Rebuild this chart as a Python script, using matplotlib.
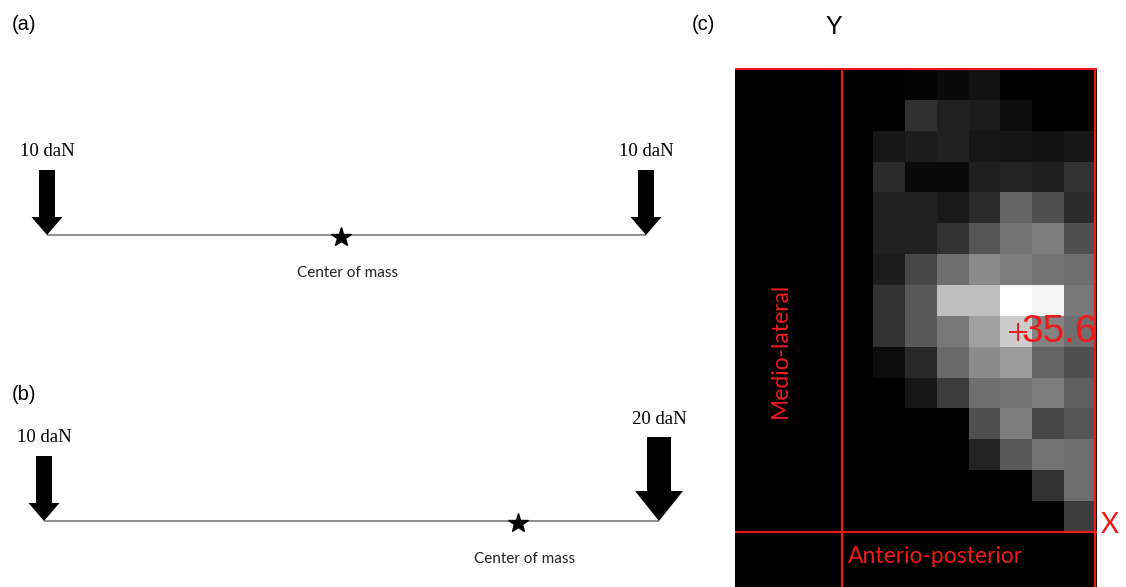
import matplotlib.pyplot as plt
import numpy as np
from matplotlib.patches import FancyArrow

# beam diagrams (a) and (b)
force_pos = [0.0, 1.0]            # where the loads act, as fraction of beam length
forces_a = [10, 10]               # daN
forces_b = [10, 20]               # daN
com_a = 0.49                      # center of mass
com_b = 0.77
force_labels_a = ['10 daN', '10 daN']
force_labels_b = ['10 daN', '20 daN']

# pressure map (c), grey level per cell, 15 rows x 7 columns
pressure = [
    [0, 3, 10, 18, 2, 0, 0],
    [0, 48, 32, 28, 12, 0, 0],
    [22, 28, 32, 22, 20, 18, 22],
    [42, 10, 10, 30, 35, 30, 50],
    [32, 32, 25, 42, 100, 80, 45],
    [32, 32, 50, 85, 115, 125, 80],
    [28, 70, 110, 140, 125, 115, 110],
    [50, 90, 190, 190, 255, 245, 120],
    [50, 90, 120, 160, 205, 130, 110],
    [12, 40, 105, 140, 155, 100, 80],
    [0, 22, 60, 110, 115, 125, 95],
    [0, 0, 0, 80, 125, 70, 85],
    [0, 0, 0, 35, 90, 115, 110],
    [0, 0, 0, 0, 0, 50, 110],
    [0, 0, 0, 0, 0, 0, 60],
]
cop = (4.55, 8.5)                 # centre of pressure, in cells
peak_value = '35.6'

W, H = 1126, 587
RED = '#ee1a1a'
SANS = 'Liberation Sans'
SERIF = 'Liberation Serif'
CAL = 'Lato'


def draw_beam(ax, x0, x1, y, forces, labels, com):
    ax.plot([x0, x1], [y, y], color='#8c8c8c', lw=1.4, solid_capstyle='butt', zorder=1)
    for p, f, lab in zip(force_pos, forces, labels):
        x = x0 + p * (x1 - x0)
        shaft = 0.8 * f + 8
        head_w = 1.7 * f + 14
        head_l = 1.2 * f + 6
        length = 1.9 * f + 46
        ax.add_patch(FancyArrow(x, y - length, 0, length, width=shaft,
                                head_width=head_w, head_length=head_l,
                                length_includes_head=True, color='black', lw=0, zorder=3))
        ax.text(x, y - length - 18, lab, family=SERIF, fontsize=13.5,
                ha='center', va='center')
    cx = x0 + com * (x1 - x0)
    ax.plot(cx, y + 2, marker='*', color='black', markersize=15, zorder=4)
    ax.text(cx + 7, y + 38, 'Center of mass', family=CAL, fontsize=11,
            ha='center', va='center', color='#222222')


fig = plt.figure(figsize=(W / 100, H / 100), dpi=100)

# left side in pixel coordinates
axl = fig.add_axes([0, 0, 700 / W, 1])
axl.set_xlim(0, 700)
axl.set_ylim(H, 0)
axl.axis('off')
draw_beam(axl, 47, 646, 235, forces_a, force_labels_a, com_a)
draw_beam(axl, 44, 659, 521, forces_b, force_labels_b, com_b)

fig.text(24 / W, 1 - 24 / H, '(a)', family=SANS, fontsize=14.5, ha='center', va='center')
fig.text(24 / W, 1 - 394 / H, '(b)', family=SANS, fontsize=14.5, ha='center', va='center')
fig.text(703 / W, 1 - 24 / H, '(c)', family=SANS, fontsize=14.5, ha='center', va='center')
fig.text(834 / W, 1 - 27 / H, 'Y', family=SANS, fontsize=18, ha='center', va='center')

# pressure map, axes in cell units
axr = fig.add_axes([735 / W, 0, 362 / W, 519 / H])
axr.set_facecolor('black')
axr.imshow(np.array(pressure), cmap='gray', vmin=0, vmax=255,
           interpolation='nearest', extent=(0, 7, 15, 0), aspect='auto', zorder=1)
axr.set_xlim(-4.36, 7.05)
axr.set_ylim(16.78, -0.04)
axr.set_xticks([])
axr.set_yticks([])
for s in axr.spines.values():
    s.set_visible(False)

axr.axhline(0, color=RED, lw=1.6, zorder=3)
axr.axhline(15, color=RED, lw=1.6, zorder=3)
axr.axvline(-1, color=RED, lw=1.6, zorder=3)
axr.axvline(7, color=RED, lw=1.6, zorder=3)

axr.plot(cop[0], cop[1], marker='+', color=RED, markersize=13, mew=1.4, zorder=4)
axr.text(cop[0] + 0.12, cop[1], peak_value, family=SANS, fontsize=28, color=RED,
         ha='left', va='center', zorder=5)

axr.text(-2.94, 9.1, 'Medio-lateral', family=CAL, fontsize=16.5, color=RED,
         rotation=90, ha='center', va='center')
axr.text(-0.79, 15.8, 'Anterio-posterior', family=CAL, fontsize=16.5, color=RED,
         ha='left', va='center')
axr.text(7.45, 14.78, 'X', family=CAL, fontsize=20, color=RED,
         ha='center', va='center', clip_on=False)

fig.savefig('out.png', dpi=100)
